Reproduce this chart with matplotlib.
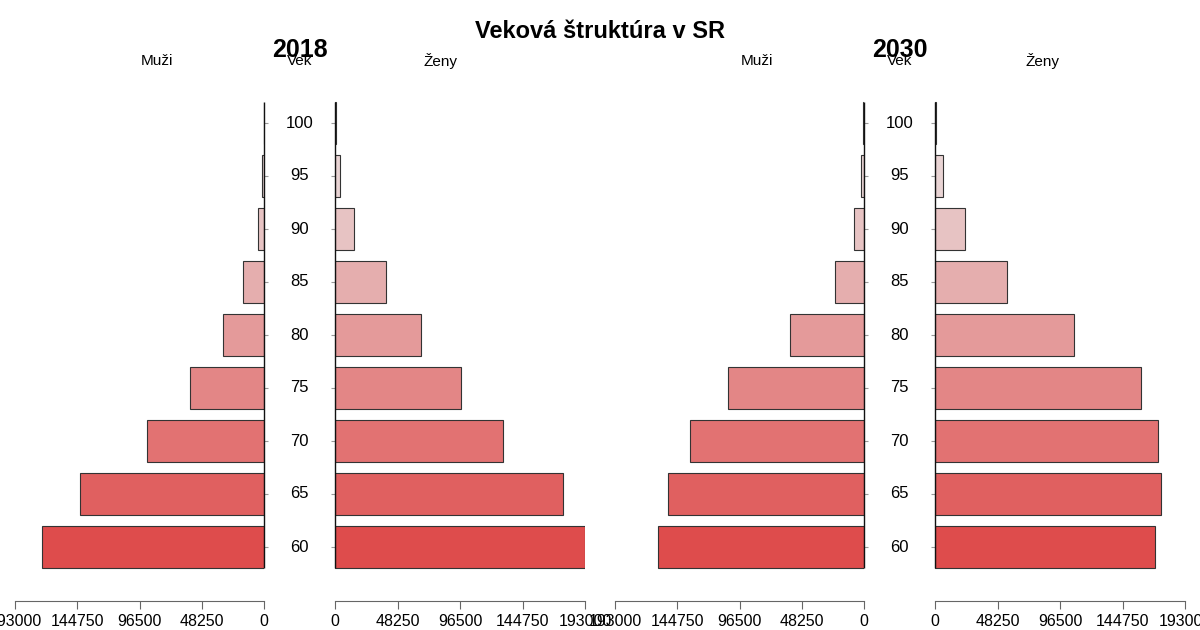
import matplotlib
matplotlib.use("Agg")
import matplotlib.pyplot as plt
import matplotlib.transforms as mtransforms

plt.rcParams['font.family'] = ['Liberation Sans Narrow', 'Liberation Sans', 'DejaVu Sans']

# data
ages = [60, 65, 70, 75, 80, 85, 90, 95, 100]
muzi_2018 = [172300, 142600, 90700, 57200, 31800, 16100, 4700, 1500, 200]
zeny_2018 = [192800, 176300, 129600, 97600, 66600, 39500, 14700, 3900, 600]
muzi_2030 = [159500, 152000, 134700, 105800, 57300, 22400, 7700, 2300, 400]
zeny_2030 = [169600, 174500, 171900, 158700, 107400, 55800, 23300, 6200, 1000]
bar_colors = ['#DE4C4C', '#E06060', '#E27272', '#E38686', '#E49A9A',
              '#E5AEAE', '#E7C3C3', '#E9D4D4', '#ECE4E4']
xmax = 193000
xticks = [0, 48250, 96500, 144750, 193000]
title = "Veková štruktúra v SR"

W, H = 1200, 630
fig = plt.figure(figsize=(12, 6.3), dpi=100)


def px_axes(x0, x1, y0, y1):
    # pixel box (from top-left) -> figure axes
    return fig.add_axes([x0 / W, 1 - y1 / H, (x1 - x0) / W, (y1 - y0) / H])


ymin = 60 - (601 - 547) / 10.6
ymax = 100 + (123 - 95) / 10.6


def half(ax, values, left):
    ax.barh(ages, values, height=4.0, color=bar_colors,
            edgecolor='#333333', linewidth=0.8)
    ax.set_ylim(ymin, ymax)
    if left:
        ax.set_xlim(xmax, 0)
    else:
        ax.set_xlim(0, xmax)
    for s in ['top', 'left', 'right']:
        ax.spines[s].set_visible(False)
    ax.spines['bottom'].set_color('#666666')
    ax.set_xticks(xticks)
    ax.set_xticklabels([str(t) for t in xticks])
    ax.tick_params(axis='x', length=6, color='#666666', labelsize=11.5,
                   pad=3)
    ax.vlines(0, 58, 102, color='#111111', linewidth=1.0, clip_on=False)
    # small age ticks next to the centre column
    ax.set_yticks(ages)
    ax.tick_params(axis='y', length=3, color='#999999', direction='out',
                   left=not left, right=left, labelleft=False,
                   labelright=False)
    ax.patch.set_visible(False)


# pixel positions: muzi axis, zeny axis, centre of Muzi / Zeny heads
panels = [
    (15, 264, 335, 585, 157, 441, muzi_2018, zeny_2018, "2018"),
    (615, 864, 935, 1185, 757, 1042, muzi_2030, zeny_2030, "2030"),
]

for mx0, mx1, zx0, zx1, mhead, zhead, muzi, zeny, year in panels:
    axm = px_axes(mx0, mx1, 95, 601)
    axz = px_axes(zx0, zx1, 95, 601)
    half(axm, muzi, True)
    half(axz, zeny, False)

    mid = (mx1 + zx0) / 2
    trans = mtransforms.blended_transform_factory(fig.transFigure, axm.transData)
    for a in ages:
        fig.text(mid / W, a, str(a), transform=trans, ha='center',
                 va='center', fontsize=12)

    fig.text(mid / W, 1 - 50 / H, year, ha='center', va='center',
             fontsize=18, fontweight='bold')
    fig.text(mhead / W, 1 - 61 / H, "Muži", ha='center', va='center',
             fontsize=11)
    fig.text(mid / W, 1 - 61 / H, "Vek", ha='center', va='center',
             fontsize=11)
    fig.text(zhead / W, 1 - 61 / H, "Ženy", ha='center', va='center',
             fontsize=11)

fig.text(0.5, 1 - 31 / H, title, ha='center', va='center', fontsize=17,
         fontweight='bold')

fig.savefig("out.png", dpi=100)
